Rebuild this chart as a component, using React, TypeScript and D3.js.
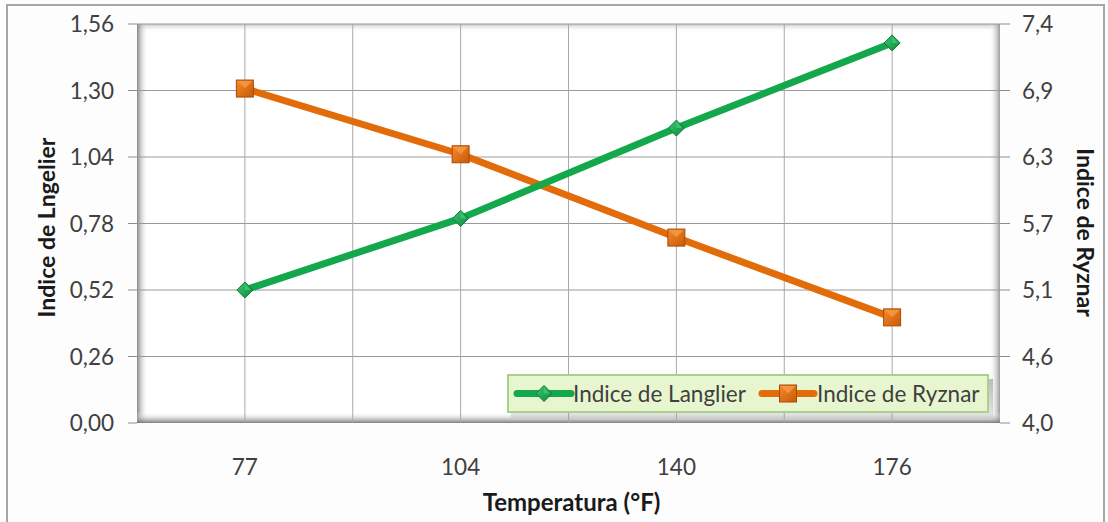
import React from "react";
import * as d3 from "d3";

const categories = ["77", "104", "140", "176"];
const langlier = [0.52, 0.8, 1.153, 1.486];
const ryznar = [6.85, 6.29, 5.58, 4.9];
const leftTicks = [0, 0.26, 0.52, 0.78, 1.04, 1.3, 1.56];
const rightTickLabels = ["4,0", "4,6", "5,1", "5,7", "6,3", "6,9", "7,4"];

const W = 1108;
const H = 522;
const L = 137, R = 1000, T = 24, B = 423;
const FONT = "Lato, 'Open Sans', sans-serif";

export default function App() {
  const x = d3.scaleBand<string>().domain(categories).range([L, R]).paddingInner(0).paddingOuter(0);
  const yL = d3.scaleLinear().domain([0, 1.56]).range([B, T]);
  const yR = d3.scaleLinear().domain([4.0, 7.4]).range([B, T]);
  const rTicks = d3.range(7).map((i) => 4.0 + (i * 3.4) / 6);
  const cx = (c: string) => (x(c) as number) + x.bandwidth() / 2;

  const lineL = d3.line<number>().x((_, i) => cx(categories[i])).y((d) => yL(d));
  const lineR = d3.line<number>().x((_, i) => cx(categories[i])).y((d) => yR(d));

  const vGrid: number[] = [];
  categories.forEach((c, i) => {
    if (i > 0) vGrid.push(x(c) as number);
    vGrid.push(cx(c));
  });

  const green = "#14a84c";
  const orange = "#e36c0a";

  const diamond = (px: number, py: number, key: any, s = 8) => (
    <g key={key}>
      <path d={`M${px},${py - s} L${px + s},${py} L${px},${py + s} L${px - s},${py} Z`} fill="url(#gDia)" stroke="#0b7a36" strokeWidth={1} />
      <path d={`M${px},${py - s + 2} L${px + s - 2},${py} L${px},${py} Z`} fill="#4fd07f" opacity={0.6} />
    </g>
  );
  const square = (px: number, py: number, key: any, s = 8.5) => (
    <g key={key}>
      <rect x={px - s} y={py - s} width={2 * s} height={2 * s} fill="url(#gSq)" stroke="#a84a05" strokeWidth={1} />
      <path d={`M${px - s + 1},${py - s + 1} L${px + s - 1},${py - s + 1} L${px},${py} Z`} fill="#f8a04a" opacity={0.7} />
    </g>
  );

  const legX = 508, legY = 375, legW = 480, legH = 37;
  const legMid = legY + legH / 2;

  return (
    <svg width={W} height={H} style={{ position: "absolute", left: 0, top: 0, background: "#fdfdfd" }} fontFamily={FONT}>
      <defs>
        <linearGradient id="shL" x1="0" x2="1" y1="0" y2="0">
          <stop offset="0" stopColor="#7a7a7a" stopOpacity={0.9} />
          <stop offset="1" stopColor="#ffffff" stopOpacity={0} />
        </linearGradient>
        <linearGradient id="shR" x1="1" x2="0" y1="0" y2="0">
          <stop offset="0" stopColor="#8a8a8a" stopOpacity={0.85} />
          <stop offset="1" stopColor="#ffffff" stopOpacity={0} />
        </linearGradient>
        <linearGradient id="shB" x1="0" x2="0" y1="1" y2="0">
          <stop offset="0" stopColor="#6e6e6e" stopOpacity={0.9} />
          <stop offset="1" stopColor="#ffffff" stopOpacity={0} />
        </linearGradient>
        <linearGradient id="shT" x1="0" x2="0" y1="0" y2="1">
          <stop offset="0" stopColor="#b0b0b0" stopOpacity={0.7} />
          <stop offset="1" stopColor="#ffffff" stopOpacity={0} />
        </linearGradient>
        <linearGradient id="lgSh" x1="0" x2="0" y1="0" y2="1">
          <stop offset="0" stopColor="#909090" stopOpacity={0.6} />
          <stop offset="1" stopColor="#909090" stopOpacity={0.2} />
        </linearGradient>
        <linearGradient id="gDia" x1="0" x2="1" y1="0" y2="1">
          <stop offset="0" stopColor="#3cc873" />
          <stop offset="1" stopColor="#0c8a3c" />
        </linearGradient>
        <linearGradient id="gSq" x1="0" x2="1" y1="0" y2="1">
          <stop offset="0" stopColor="#f5892a" />
          <stop offset="1" stopColor="#c85a08" />
        </linearGradient>
      </defs>

      {/* outer border */}
      <rect x={7} y={5} width={1097} height={530} fill="#fdfdfd" stroke="#a6a6a6" strokeWidth={2} />

      {/* plot area */}
      <rect x={L} y={T} width={R - L} height={B - T} fill="#ffffff" />
      <rect x={L} y={T} width={R - L} height={8} fill="url(#shT)" />
      <rect x={L} y={T} width={11} height={B - T} fill="url(#shL)" />
      <rect x={R - 11} y={T} width={11} height={B - T} fill="url(#shR)" />
      <rect x={L} y={B - 11} width={R - L} height={11} fill="url(#shB)" />

      {/* gridlines */}
      {leftTicks.slice(1).map((t) => (
        <line key={"h" + t} x1={L} x2={R} y1={yL(t)} y2={yL(t)} stroke="#9a9a9a" strokeWidth={1} />
      ))}
      {vGrid.map((v, i) => (
        <line key={"v" + i} x1={v} x2={v} y1={T} y2={B} stroke="#a8a8a8" strokeWidth={1} />
      ))}

      {/* left ticks */}
      {leftTicks.map((t) => (
        <g key={"lt" + t}>
          <line x1={128} x2={L} y1={yL(t)} y2={yL(t)} stroke="#8c8c8c" strokeWidth={1} />
          <text x={114} y={yL(t)} dy="0.36em" textAnchor="end" fontSize={22.5} fill="#404040">
            {t.toFixed(2).replace(".", ",")}
          </text>
        </g>
      ))}
      {/* right ticks */}
      {rTicks.map((t, i) => (
        <g key={"rt" + i}>
          <line x1={R} x2={1010} y1={yR(t)} y2={yR(t)} stroke="#8c8c8c" strokeWidth={1} />
          <text x={1022} y={yR(t)} dy="0.36em" textAnchor="start" fontSize={22.5} fill="#404040">
            {rightTickLabels[i]}
          </text>
        </g>
      ))}
      {/* x labels */}
      {categories.map((c) => (
        <text key={"x" + c} x={cx(c)} y={467} dy="0.36em" textAnchor="middle" fontSize={22.5} fill="#404040">
          {c}
        </text>
      ))}

      {/* axis titles */}
      <text transform={`translate(47,${(T + B) / 2 + 4}) rotate(-90)`} textAnchor="middle" fontSize={23} fontWeight="bold" fill="#1a1a1a" dy="0.36em">
        Indice de Lngelier
      </text>
      <text transform={`translate(1085,${(T + B) / 2 + 9}) rotate(90)`} textAnchor="middle" fontSize={23} fontWeight="bold" fill="#1a1a1a" dy="0.36em">
        Indice de Ryznar
      </text>
      <text x={(L + R) / 2 + 3} y={502} dy="0.36em" textAnchor="middle" fontSize={24} fontWeight="bold" fill="#1a1a1a">
        Temperatura (°F)
      </text>

      {/* lines */}
      <path d={lineR(ryznar) || ""} fill="none" stroke={orange} strokeWidth={7} strokeLinejoin="round" />
      <path d={lineL(langlier) || ""} fill="none" stroke={green} strokeWidth={7} strokeLinejoin="round" />
      {ryznar.map((v, i) => square(cx(categories[i]), yR(v), "s" + i))}
      {langlier.map((v, i) => diamond(cx(categories[i]), yL(v), "d" + i))}

      {/* legend */}
      <rect x={legX + 3} y={legY + 4} width={legW + 2} height={legH + 2} fill="url(#lgSh)" />
      <rect x={legX} y={legY} width={legW} height={legH} fill="#e8f6cf" stroke="#a9d18e" strokeWidth={2} />
      <line x1={517} x2={571} y1={legMid} y2={legMid} stroke={green} strokeWidth={7} strokeLinecap="round" />
      {diamond(544, legMid, "ld")}
      <text x={573} y={legMid} dy="0.36em" fontSize={22.5} fill="#404040">Indice de Langlier</text>
      <line x1={762} x2={814} y1={legMid} y2={legMid} stroke={orange} strokeWidth={7} strokeLinecap="round" />
      {square(788, legMid, "ls")}
      <text x={817} y={legMid} dy="0.36em" fontSize={22.5} fill="#404040">Indice de Ryznar</text>
    </svg>
  );
}
